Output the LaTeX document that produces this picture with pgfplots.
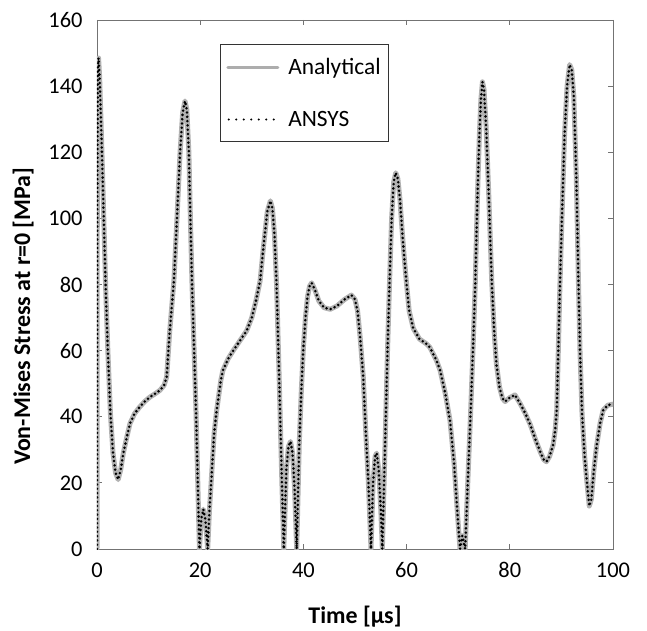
\documentclass[border=0pt]{standalone}
\usepackage{pgfplots}
\usepackage{pgfplotstable}
\pgfplotsset{compat=1.18}
\usepackage{fontspec}
\setmainfont{Carlito}
\pgfplotstableread{
x y
0 0
0.05 100
0.15 145
0.3 148.5
0.5 143
0.8 128
1.1 112
1.4 95
1.7 78
2.1 60
2.6 41
3.1 29
3.6 23
4.1 21
4.6 24
5.1 29
5.8 34
6.4 38
7.3 41
8.3 43
9.3 44.7
10.3 46
11.3 47
12.2 48
13 49.5
13.5 52
14.1 66
14.9 81
15.5 100
16.1 120
16.6 132
17.05 135.5
17.4 133
17.8 120
18.1 100
18.4 81
18.8 61
19.2 41
19.5 22
19.85 0
20.2 9
20.6 12
21.0 9
21.45 0
21.8 12
22.2 22
22.7 35
23.2 42
24 51
24.4 54
25.4 57.5
26.4 60
27.7 63
29 66
30 70
30.8 75
31.6 81
32.3 92
33 102
33.6 105.3
34 103
34.4 95
34.8 80
35.3 52
35.8 22
36.2 0
36.7 24
37.1 31
37.5 32.5
37.9 29
38.3 18
38.7 0
39.2 32
39.6 48
40 61
40.4 70
40.8 76.3
41.2 79.5
41.6 80.5
42.2 78.5
43 75
44 73
45.2 72.5
46.5 73.5
48 75.5
49.3 76.8
50 75.5
50.5 72
51 64
51.6 52
52.1 35
52.6 20
53.1 0
53.5 20
53.9 28
54.2 29
54.6 24
55 12
55.3 0
55.8 30
56.3 60
56.7 81
57.1 100
57.5 111
57.9 113.8
58.3 112
58.7 106
59.1 97
59.5 89
60 80
60.5 72
61.3 66.7
62.5 63.5
63.9 62
64.5 61
65.8 57
66.5 54
67.5 47
68.4 39
69.2 26
69.8 12
70.35 0
70.8 4
71.35 0
71.9 22
72.4 41
72.9 62
73.3 80
73.7 105
74.1 125
74.4 136
74.7 141.3
75.0 139
75.4 128
75.9 108
76.5 81
77 65
77.4 56
78 49
78.6 45.5
79.1 44.6
80 45.8
81 46.6
82 44
83 41
84 37.5
85 33
86 29
86.6 27
87.1 26.4
87.7 28
88.4 31.5
88.8 36
89.1 42
89.4 60
89.7 79
90.1 100
90.6 125
91.1 140
91.6 146.5
92.0 145
92.4 137
92.9 112
93.3 81
93.6 60
94 41
94.5 28
94.9 21
95.4 13
95.8 15
96.3 24
96.8 31
97.5 38
98.1 42
99 43.5
100 43.8
}\stressdata
\begin{document}
\begin{tikzpicture}
\begin{axis}[
  scale only axis,
  width=516bp, height=529bp,
  xmin=0, xmax=100, ymin=0, ymax=160,
  xtick={0,20,...,100}, ytick={0,20,...,160},
  tick align=inside, xtick pos=both, ytick pos=both,
  major tick length=5bp,
  axis line style={draw=black!55, line width=0.9bp},
  every tick/.style={draw=black!55, line width=0.9bp},
  /pgf/number format/assume math mode=true,
  ticklabel style={font=\fontsize{22.5}{24}\selectfont},
  xticklabel style={yshift=-10bp},
  yticklabel style={xshift=-11bp},
  xlabel={\textbf{Time [µs]}},
  ylabel={\textbf{Von-Mises Stress at r=0 [MPa]}},
  label style={font=\fontsize{24}{26}\selectfont},
  xlabel style={at={(axis description cs:0.5,-0.127)}, anchor=center},
  ylabel style={at={(axis description cs:-0.143,0.44)}, anchor=center},
  legend style={at={(axis description cs:0.238,0.9546)}, anchor=north west, draw=black!80, line width=0.9bp,
    font=\fontsize{23.5}{26}\selectfont, row sep=31bp, inner xsep=6bp, inner ysep=12bp,
    cells={anchor=west}},
]
\addplot[draw=black!30, line width=5bp, line join=round, line cap=round,
  legend image code/.code={\draw[draw=black!32, line width=3bp] (0bp,0bp) -- (50bp,0bp); \path (56bp,0bp);}] table {\stressdata};
\addlegendentry{Analytical}
\addplot[draw=black, line width=2.8bp, line join=round, line cap=round, dash pattern=on 0bp off 4.3bp,
  legend image code/.code={\draw[draw=black, line width=2.4bp, line cap=round, dash pattern=on 0bp off 7.5bp] (1bp,0bp) -- (50bp,0bp); \path (56bp,0bp);}] table {\stressdata};
\addlegendentry{ANSYS}
\end{axis}
\path (current axis.south west) ++(-97bp,-76bp);
\path (current axis.north east) ++(34bp,20bp);
\end{tikzpicture}
\end{document}
